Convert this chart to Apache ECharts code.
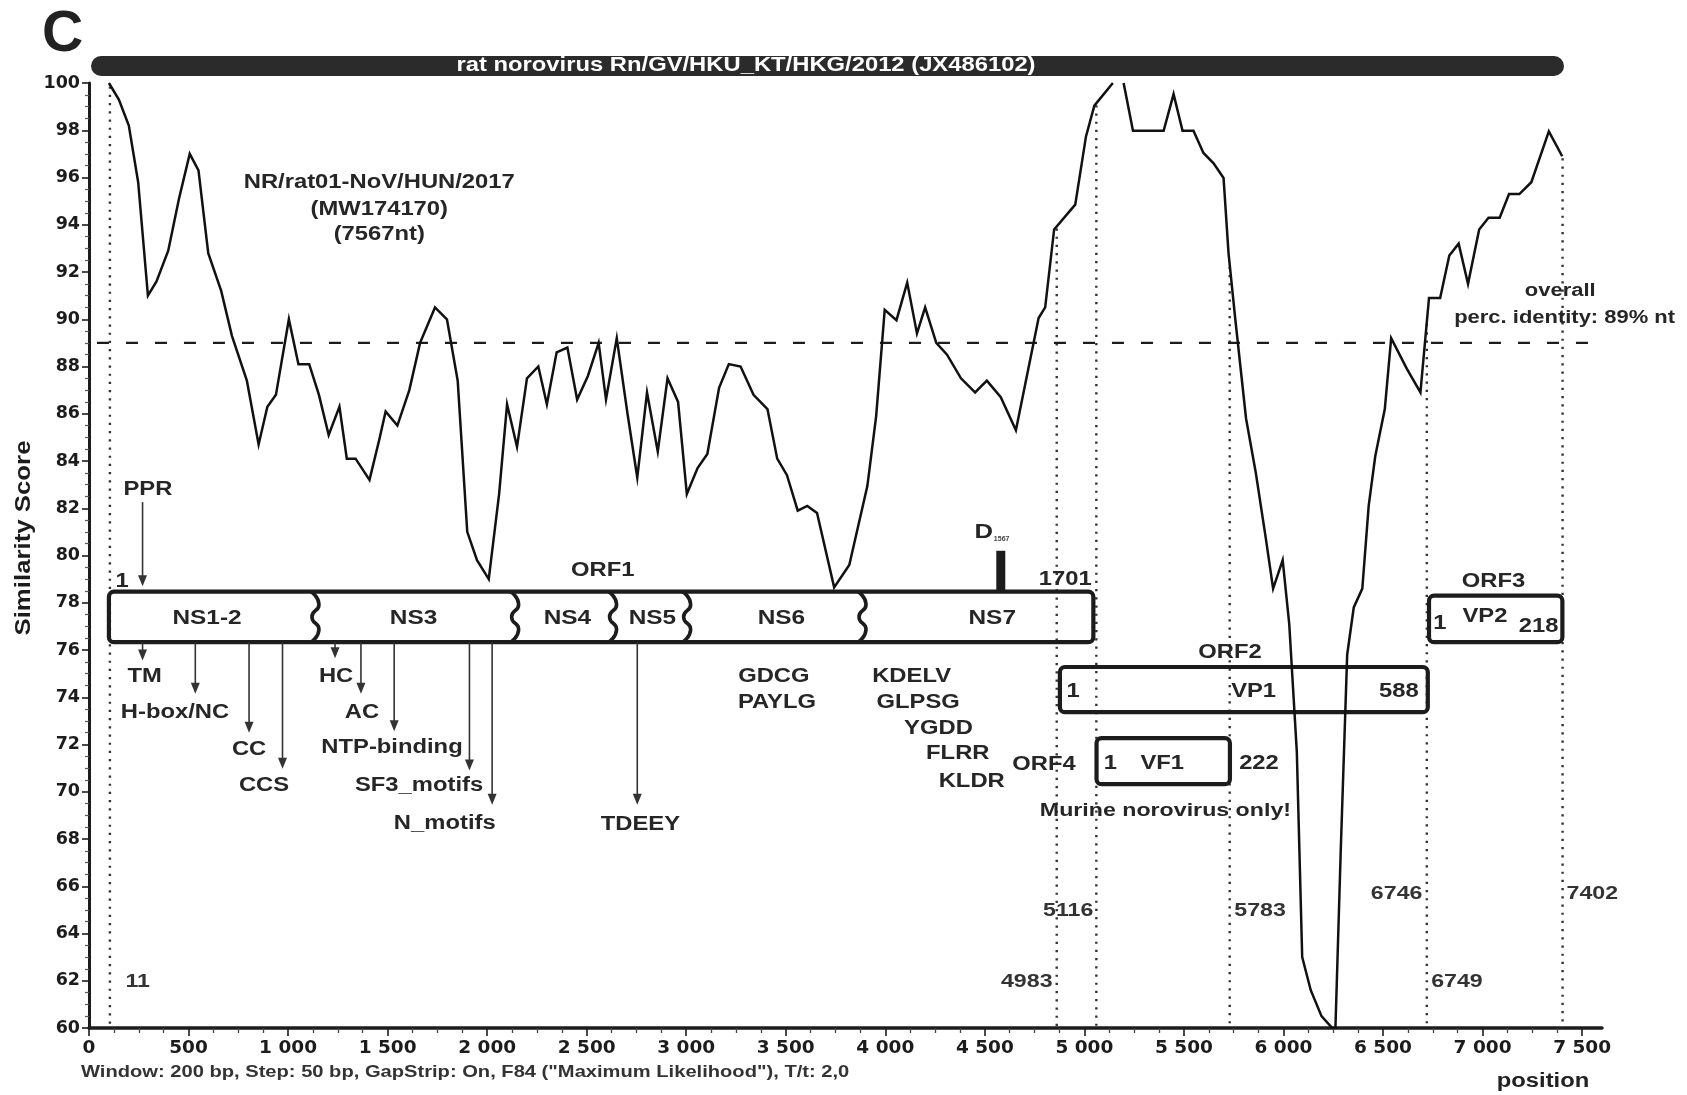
<!DOCTYPE html>
<html>
<head>
<meta charset="utf-8">
<script src="https://cdn.jsdelivr.net/npm/echarts@6/dist/echarts.min.js"></script>
<style>
  html, body { margin: 0; padding: 0; background: #fff; }
  #chart { width: 1687px; height: 1095px; }
</style>
</head>
<body>
<div id="chart"></div>
<script>
// ---------------------------------------------------------------
// SimPlot similarity of NR/rat01-NoV/HUN/2017 against the rat
// norovirus reference (window 200 bp, step 50 bp).
// ---------------------------------------------------------------
const simPos = [100, 150, 200, 247, 296, 339, 398, 452, 506, 550, 599, 664, 718, 793, 852, 896, 939,
  1004, 1052, 1106, 1155, 1204, 1258, 1295, 1339, 1409, 1458, 1490, 1549, 1609, 1663, 1738, 1798, 1852,
  1900, 1949, 2008, 2060, 2100, 2150, 2200, 2257, 2300, 2349, 2403, 2452, 2506, 2560, 2597, 2651, 2705,
  2754, 2803, 2857, 2906, 2959, 3003, 3057, 3106, 3165, 3214, 3273, 3338, 3408, 3457, 3506, 3560, 3608,
  3657, 3743, 3819, 3910, 3954, 3997, 4056, 4110, 4159, 4200, 4256, 4310, 4380, 4451, 4510, 4580, 4656,
  4770, 4803, 4848, 4954, 5008, 5050, 5143, 5170, 5197, 5244, 5398, 5448, 5493, 5548, 5598, 5649, 5699,
  5724, 5758, 5812, 5861, 5910, 5948, 5996, 6029, 6067, 6094, 6137, 6191, 6245, 6261, 6288, 6320, 6353,
  6396, 6428, 6461, 6509, 6541, 6620, 6688, 6731, 6787, 6833, 6880, 6927, 6983, 7030, 7086, 7133, 7185,
  7245, 7333, 7400];
const simVal = [100, 99.3, 98.2, 95.8, 91.0, 91.6, 92.9, 95.1, 97.0, 96.3, 92.8, 91.2, 89.3, 87.4, 84.7, 86.3, 86.8,
  90.0, 88.1, 88.1, 86.8, 85.1, 86.3, 84.1, 84.1, 83.2, 84.9, 86.1, 85.5, 87.0, 89.0, 90.5, 90.0, 87.4,
  81.0, 79.8, 79.0, 82.6, 86.4, 84.6, 87.5, 88.0, 86.4, 88.6, 88.8, 86.6, 87.6, 89.0, 86.6, 89.2, 86.0,
  83.3, 86.9, 84.4, 87.5, 86.5, 82.6, 83.7, 84.3, 87.1, 88.1, 88.0, 86.8, 86.2, 84.1, 83.4, 81.9, 82.1,
  81.8, 78.65, 79.6, 82.95, 85.9, 90.4, 89.96, 91.55, 89.4, 90.5, 89.0, 88.5, 87.5, 86.9, 87.4, 86.7, 85.3,
  90.05, 90.5, 93.8, 94.85, 97.74, 99.04, 100, null, 100, 97.98, 97.98, 99.53, 97.98, 97.98, 97.04, 96.6, 95.98,
  92.8, 90.0, 85.8, 83.5, 80.8, 78.6, 79.8, 77.1, 71.7, 63.0, 61.6, 60.5, 60.0, 60.0, 67.6, 75.8, 77.8,
  78.6, 82.1, 84.2, 86.2, 89.2, 87.9, 86.9, 90.9, 90.9, 92.7, 93.2, 91.5, 93.8, 94.3, 94.3, 95.3, 95.3,
  95.8, 97.95, 96.9];

const overallIdentity = 89;           // % nt, whole-genome
const identityLineEnd = 7840;         // the dashed reference runs past the last tick

// x-axis ticks (bp)
const xLabelValues = [0, 500, 1000, 1500, 2000, 2500, 3000, 3500, 4000, 4500, 5000, 5500, 6000, 6500, 7000, 7500];
const xMinorValues = [125, 250, 375, 625, 750, 875, 1125, 1250, 1375, 1625, 1750, 1875, 2125, 2250, 2375,
  2625, 2750, 2875, 3125, 3250, 3375, 3625, 3750, 3875, 4125, 4250, 4375, 4625, 4750, 4875, 5125, 5250,
  5375, 5625, 5750, 5875, 6125, 6250, 6375, 6625, 6750, 6875, 7125, 7250, 7375];

// ORF boundaries on the alignment (bp) with the reference nt position labels
const dropPos = [105, 4861, 5060, 5730, 6720, 7402];
const dropTags = ['11', '4983', '5116', '5783', '6746', '6749', '7402'];

// Open reading frames (alignment bp)
const orfNames = ['ORF1', 'ORF2', 'ORF4', 'ORF3'];
const orfStart = [100, 4877, 5061, 6731];
const orfEnd = [5045, 6725, 5731, 7401];

// ORF1 non-structural protein borders (bp)
const nsNames = ['NS1-2', 'NS3', 'NS4', 'NS5', 'NS6', 'NS7'];
const nsBreaks = [1130, 2133, 2625, 2997, 3878];

// Conserved motifs marked with arrows (bp)
const motifNames = ['TM', 'H-box/NC', 'CC', 'CCS', 'HC', 'AC', 'NTP-binding', 'SF3_motifs', 'N_motifs', 'TDEEY'];
const motifPos = [269, 534, 804, 972, 1236, 1366, 1533, 1911, 2025, 2754];
const pprPos = 269;
const d1567Pos = 4580;

// ---------------------------------------------------------------
// Layout of the genome map, expressed in axis units (bp, score)
// ---------------------------------------------------------------
const rowOf = { ORF1: [78.47, 76.33], ORF3: [78.3, 76.33], ORF2: [75.28, 73.37], ORF4: [72.27, 70.32] };
const nsLabelX = [593, 1630, 2403, 2830, 3478, 4537];
const motifTip = [75.56, 74.15, 72.5, 70.97, 75.65, 74.15, 72.56, 70.9, 69.45, 69.45];
const motifLabelAt = [[280, 74.87], [432, 73.36], [804, 71.78], [879, 70.28], [1241, 74.87], [1371, 73.36],
  [1522, 71.88], [1658, 70.28], [1787, 68.63], [2770, 68.6]];
const dropTagAt = [[183, 61.94, 'left'], [4840, 61.94, 'right'], [5045, 64.95, 'right'], [5753, 64.95, 'left'],
  [6698, 65.68, 'right'], [6742, 61.94, 'left'], [7422, 65.68, 'left']];

const notes = [
  ['NR/rat01-NoV/HUN/2017', 1458, 95.78, 'center', 19.5],
  ['(MW174170)', 1458, 94.64, 'center', 19.5],
  ['(7567nt)', 1458, 93.6, 'center', 19.5],
  ['PPR', 296, 82.8, 'center', 19.5],
  ['1', 166, 78.9, 'center', 19.5],
  ['ORF1', 2581, 79.35, 'center', 19.5],
  ['1701', 4904, 78.96, 'center', 19.5],
  ['GDCG', 3440, 74.87, 'center', 19.5],
  ['PAYLG', 3456, 73.78, 'center', 19.5],
  ['KDELV', 4132, 74.87, 'center', 19.5],
  ['GLPSG', 4165, 73.78, 'center', 19.5],
  ['YGDD', 4267, 72.69, 'center', 19.5],
  ['FLRR', 4364, 71.6, 'center', 19.5],
  ['KLDR', 4434, 70.41, 'center', 19.5],
  ['ORF2', 5731, 75.87, 'center', 19.5],
  ['1', 4943, 74.24, 'center', 19.5],
  ['VP1', 5850, 74.24, 'center', 19.5],
  ['588', 6580, 74.24, 'center', 19.5],
  ['ORF4', 4797, 71.14, 'center', 19.5],
  ['1', 5131, 71.2, 'center', 19.5],
  ['VF1', 5391, 71.2, 'center', 19.5],
  ['222', 5877, 71.2, 'center', 19.5],
  ['Murine norovirus only!', 5407, 69.2, 'center', 19],
  ['ORF3', 7055, 78.9, 'center', 19.5],
  ['1', 6785, 77.1, 'center', 19.5],
  ['VP2', 7012, 77.4, 'center', 19.5],
  ['218', 7282, 77.0, 'center', 19.5],
  ['overall', 7390, 91.2, 'center', 18],
  ['perc. identity: ' + overallIdentity + '% nt', 7967, 90.06, 'right', 18]
];

const INK = '#1c1c1c';
const TEXT = '#262626';
const FONT = '"Liberation Sans", Arial, sans-serif';
const WIDE = '"DejaVu Sans", sans-serif';
const STRETCH = 1.22;

function fmtBp(v) {
  if (v < 1000) return String(v);
  return Math.floor(v / 1000) + ' ' + String(v % 1000).padStart(3, '0');
}

// score of the similarity curve at a given bp, used to start the drop lines on the curve
function curveAt(x) {
  for (let i = 0; i < simPos.length - 1; i++) {
    const a = simVal[i], b = simVal[i + 1];
    if (a == null || b == null) continue;
    if (x >= simPos[i] && x <= simPos[i + 1]) {
      return a + (b - a) * (x - simPos[i]) / (simPos[i + 1] - simPos[i]);
    }
  }
  return x <= simPos[0] ? simVal[0] : simVal[simVal.length - 1];
}

function textEl(str, p, align, size, fill, stretch) {
  return {
    type: 'text', x: p[0], y: p[1], scaleX: stretch == null ? STRETCH : stretch,
    style: { text: str, fill: fill || TEXT, fontFamily: FONT, fontWeight: 'bold', fontSize: size,
      align: align, verticalAlign: 'middle' }
  };
}

const curveData = simPos.map((x, i) => [x, simVal[i] == null ? '-' : simVal[i]]);

const chart = echarts.init(document.getElementById('chart'), null, { renderer: 'canvas' });

chart.setOption({
  animation: false,
  backgroundColor: '#fff',
  grid: { left: 89, right: 85, top: 83, bottom: 67, containLabel: false, outerBoundsMode: 'none' },
  xAxis: [{
    type: 'value', min: 0, max: 7600, position: 'bottom',
    axisLine: { lineStyle: { color: INK, width: 3.5 } },
    axisTick: { customValues: xLabelValues, length: 8, lineStyle: { color: INK, width: 1.6 } },
    axisLabel: { customValues: xLabelValues, formatter: fmtBp, color: INK, fontFamily: WIDE,
      fontWeight: 'bold', fontSize: 18.5, margin: 11 },
    splitLine: { show: false }
  }, {
    type: 'value', min: 0, max: 7600, position: 'bottom', offset: 0,
    axisLine: { show: false },
    axisTick: { customValues: xMinorValues, length: 5, lineStyle: { color: '#444', width: 1.3 } },
    axisLabel: { show: false },
    splitLine: { show: false }
  }],
  yAxis: {
    type: 'value', min: 60, max: 100, interval: 2,
    axisLine: { show: true, lineStyle: { color: INK, width: 3 } },
    axisTick: { show: true, length: 7, lineStyle: { color: INK, width: 1.6 } },
    minorTick: { show: true, splitNumber: 4, length: 4, lineStyle: { color: '#555', width: 1.2 } },
    axisLabel: { color: INK, fontFamily: WIDE, fontWeight: 'bold', fontSize: 17.5, margin: 9 },
    splitLine: { show: false },
    minorSplitLine: { show: false }
  },
  series: [
    // vertical dotted drop lines at ORF borders
    {
      type: 'custom', name: 'borders', silent: true, z: 1,
      data: dropPos.map(x => [x, curveAt(x)]),
      renderItem: (params, api) => {
        const top = api.coord([api.value(0), api.value(1)]);
        const bot = api.coord([api.value(0), 60]);
        return { type: 'line', shape: { x1: top[0], y1: top[1] + 2, x2: bot[0], y2: bot[1] },
          style: { stroke: '#333', lineWidth: 2.4, lineDash: [2.2, 6] } };
      }
    },
    // ORF boxes
    {
      type: 'custom', name: 'orfs', silent: true, z: 2,
      data: orfNames.map((n, i) => [orfStart[i], orfEnd[i]]),
      renderItem: (params, api) => {
        const name = orfNames[params.dataIndex];
        const row = rowOf[name];
        const a = api.coord([api.value(0), row[0]]);
        const b = api.coord([api.value(1), row[1]]);
        const children = [{
          type: 'rect', shape: { x: a[0], y: a[1], width: b[0] - a[0], height: b[1] - a[1], r: 5 },
          style: { fill: null, stroke: INK, lineWidth: 4.2 }
        }];
        if (name === 'ORF1') {
          const h = b[1] - a[1];
          nsBreaks.forEach(bp => {
            const x0 = api.coord([bp, 70])[0];
            children.push({
              type: 'polyline',
              shape: { points: [[x0 - 3, a[1]], [x0 + 5, a[1] + h * 0.25], [x0 - 2, a[1] + h * 0.5],
                [x0 + 5, a[1] + h * 0.75], [x0 - 3, b[1]]], smooth: 0.6 },
              style: { fill: null, stroke: INK, lineWidth: 3.6 }
            });
          });
          const midY = api.coord([0, 77.33])[1];
          nsNames.forEach((n, i) => {
            children.push(textEl(n, [api.coord([nsLabelX[i], 0])[0], midY], 'center', 20));
          });
          // D1567 marker on NS7
          const d0 = api.coord([d1567Pos, row[0]]);
          const d1 = api.coord([d1567Pos, 80.2]);
          children.push({ type: 'rect', shape: { x: d0[0] - 4.5, y: d1[1], width: 9, height: d0[1] - d1[1] },
            style: { fill: INK } });
          const dl = api.coord([4494, 80.98]);
          children.push(textEl('D', dl, 'center', 21));
          children.push(textEl('1567', [dl[0] + 18, dl[1] + 7], 'center', 7, '#444', 1));
        }
        return { type: 'group', children: children };
      }
    },
    // motif arrows under ORF1 and PPR arrow above it
    {
      type: 'custom', name: 'motifs', silent: true, z: 3,
      data: motifPos.map((x, i) => [x, motifTip[i]]).concat([[pprPos, 78.7]]),
      renderItem: (params, api) => {
        const i = params.dataIndex;
        const isPpr = i === motifPos.length;
        const from = api.coord([api.value(0), isPpr ? 82.26 : rowOf.ORF1[1]]);
        const tip = api.coord([api.value(0), api.value(1)]);
        const children = [
          { type: 'line', shape: { x1: from[0], y1: from[1], x2: tip[0], y2: tip[1] - 6 },
            style: { stroke: '#333', lineWidth: 1.6 } },
          { type: 'polygon', shape: { points: [[tip[0] - 4.5, tip[1] - 11], [tip[0] + 4.5, tip[1] - 11], [tip[0], tip[1]]] },
            style: { fill: '#333' } }
        ];
        if (!isPpr) {
          children.push(textEl(motifNames[i], api.coord(motifLabelAt[i]), 'center', 19.5));
        }
        return { type: 'group', children: children };
      }
    },
    // free-standing labels
    {
      type: 'custom', name: 'notes', silent: true, z: 4,
      data: notes.map(n => [n[1], n[2]]),
      renderItem: (params, api) => {
        const n = notes[params.dataIndex];
        return textEl(n[0], api.coord([api.value(0), api.value(1)]), n[3], n[4]);
      }
    },
    // nt positions written next to the ORF borders
    {
      type: 'custom', name: 'borderTags', silent: true, z: 4,
      data: dropTagAt.map(t => [t[0], t[1]]),
      renderItem: (params, api) => {
        const t = dropTagAt[params.dataIndex];
        return textEl(dropTags[params.dataIndex], api.coord([api.value(0), api.value(1)]), t[2], 19, '#333');
      }
    },
    // overall identity
    {
      type: 'line', name: 'overall', silent: true, clip: false, z: 5,
      data: [[40, overallIdentity], [identityLineEnd, overallIdentity]],
      symbol: 'none',
      lineStyle: { color: INK, width: 2.4, type: [12, 17] }
    },
    // similarity curve
    {
      type: 'line', name: 'similarity', silent: true, clip: true, z: 6,
      data: curveData,
      symbol: 'none', connectNulls: false,
      lineStyle: { color: '#111', width: 2.5, join: 'miter' }
    }
  ],
  graphic: [
    { type: 'text', left: 42, top: 7, style: { text: 'C', fill: '#222', fontFamily: FONT, fontWeight: 'bold', fontSize: 57 } },
    { type: 'text', x: 24, y: 538, rotation: Math.PI / 2, scaleX: 1.2, scaleY: 1.05,
      style: { text: 'Similarity Score', fill: INK, fontFamily: FONT, fontWeight: 'bold', fontSize: 21.5,
        align: 'center', verticalAlign: 'middle' } },
    { type: 'rect', shape: { x: 91, y: 56, width: 1473, height: 20, r: 10 }, style: { fill: '#2b2b2b' } },
    { type: 'text', x: 746, y: 66, scaleX: STRETCH,
      style: { text: 'rat norovirus Rn/GV/HKU_KT/HKG/2012 (JX486102)', fill: '#fff', fontFamily: FONT,
        fontWeight: 'bold', fontSize: 19.5, align: 'center', verticalAlign: 'middle' } },
    { type: 'text', x: 81, y: 1072, scaleX: STRETCH,
      style: { text: 'Window: 200 bp, Step: 50 bp, GapStrip: On, F84 ("Maximum Likelihood"), T/t: 2,0', fill: '#333',
        fontFamily: FONT, fontWeight: 'bold', fontSize: 16.5, align: 'left', verticalAlign: 'middle' } },
    { type: 'text', x: 1543, y: 1082, scaleX: STRETCH,
      style: { text: 'position', fill: '#222', fontFamily: FONT, fontWeight: 'bold', fontSize: 19.5,
        align: 'center', verticalAlign: 'middle' } }
  ]
});
</script>
</body>
</html>
